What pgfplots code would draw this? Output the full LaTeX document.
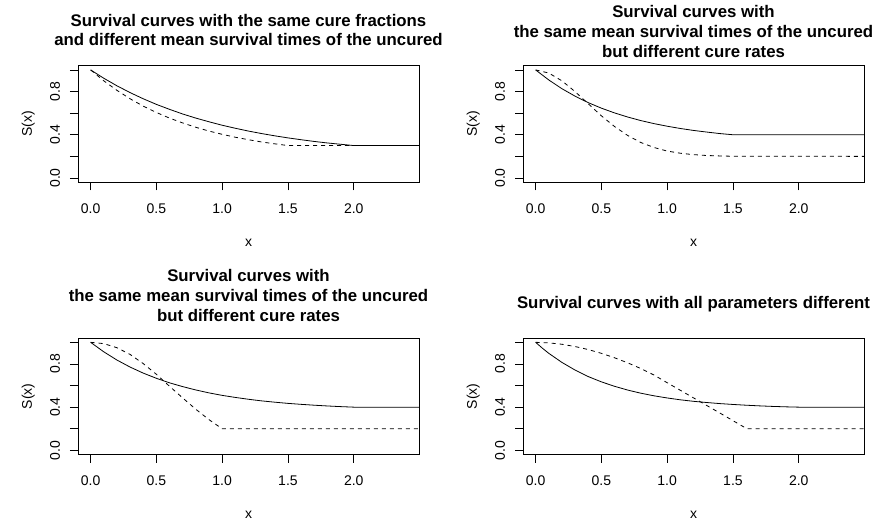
\documentclass[border=0pt]{standalone}
\usepackage{fontspec}
\setmainfont{Liberation Sans}
\usepackage{pgfplots}
\pgfplotsset{compat=1.18}
\pgfplotsset{
  rstyle/.style={
    scale only axis, width=341pt, height=116.7pt, anchor=south west,
    xmin=-0.096, xmax=2.496, ymin=-0.04, ymax=1.04,
    axis line style={line width=0.8pt},
    tick align=outside, major tick length=8pt,
    tick style={black, line width=0.8pt},
    xtick={0,0.5,1,1.5,2}, xticklabels={0.0,0.5,1.0,1.5,2.0},
    ytick={0,0.2,0.4,0.6,0.8,1}, yticklabels={0.0,,0.4,,0.8,},
    xtick pos=lower, ytick pos=left,
    ticklabel style={font=\fontsize{14}{16}\selectfont},
    xticklabel style={anchor=center, yshift=-18pt},
    yticklabel style={xshift=-15pt, rotate=90, anchor=center},
    xlabel={x}, ylabel={S(x)},
    label style={font=\fontsize{14}{16}\selectfont},
    xlabel style={at={(axis description cs:0.5,-0.5176)}, anchor=center},
    ylabel style={at={(axis description cs:-0.1457,0.5)}, anchor=center},
    clip=true,
  },
  sol/.style={black, line width=0.8pt},
  das/.style={black, line width=0.8pt, dash pattern=on 4pt off 4pt},
}
\begin{document}
\begin{tikzpicture}[x=1pt,y=1pt]
\path[use as bounding box] (0,0) rectangle (875,525);
% Panel 1
\begin{axis}[rstyle, at={(78pt,342.7pt)}]
\addplot[sol] coordinates {(0,1.000) (0.1,0.923) (0.2,0.853) (0.3,0.790) (0.4,0.733) (0.5,0.681) (0.6,0.635) (0.7,0.592) (0.8,0.554) (0.9,0.520) (1.0,0.488) (1.1,0.460) (1.2,0.434) (1.3,0.411) (1.4,0.390) (1.5,0.371) (1.6,0.354) (1.7,0.338) (1.8,0.324) (1.9,0.312) (2.0,0.300) (2.5,0.300)};
\addplot[das] coordinates {(0,1.000) (0.1,0.899) (0.2,0.811) (0.3,0.733) (0.4,0.665) (0.5,0.606) (0.6,0.554) (0.7,0.509) (0.8,0.469) (0.9,0.434) (1.0,0.404) (1.1,0.377) (1.2,0.354) (1.3,0.333) (1.4,0.316) (1.5,0.300) (2.5,0.300)};
\end{axis}
% Panel 2
\begin{axis}[rstyle, at={(523pt,342.7pt)}]
\addplot[sol] coordinates {(0,1.000) (0.1,0.907) (0.2,0.826) (0.3,0.757) (0.4,0.697) (0.5,0.646) (0.6,0.602) (0.7,0.564) (0.8,0.531) (0.9,0.503) (1.0,0.479) (1.1,0.458) (1.2,0.440) (1.3,0.425) (1.4,0.411) (1.5,0.400) (2.5,0.400)};
\addplot[das] coordinates {(0,1.000) (0.1,0.971) (0.2,0.899) (0.3,0.799) (0.4,0.687) (0.5,0.575) (0.6,0.476) (0.7,0.393) (0.8,0.328) (0.9,0.282) (1.0,0.249) (1.1,0.229) (1.2,0.216) (1.3,0.208) (1.4,0.204) (1.5,0.201) (2.5,0.200)};
\end{axis}
% Panel 3
\begin{axis}[rstyle, at={(78pt,70.3pt)}]
\addplot[sol] coordinates {(0,1.000) (0.1,0.912) (0.2,0.836) (0.3,0.771) (0.4,0.715) (0.5,0.667) (0.6,0.625) (0.7,0.590) (0.8,0.559) (0.9,0.532) (1.0,0.509) (1.1,0.490) (1.2,0.473) (1.3,0.458) (1.4,0.446) (1.5,0.435) (1.6,0.426) (1.7,0.418) (1.8,0.411) (1.9,0.405) (2.0,0.400) (2.5,0.400)};
\addplot[das] coordinates {(0,1.000) (0.1,0.988) (0.2,0.950) (0.3,0.888) (0.4,0.803) (0.5,0.704) (0.6,0.593) (0.7,0.485) (0.8,0.380) (0.9,0.284) (1.0,0.200) (2.5,0.200)};
\end{axis}
% Panel 4
\begin{axis}[rstyle, at={(523pt,70.3pt)}]
\addplot[sol] coordinates {(0,1.000) (0.05,0.947) (0.1,0.898) (0.2,0.814) (0.3,0.743) (0.4,0.683) (0.5,0.634) (0.6,0.593) (0.7,0.558) (0.8,0.529) (0.9,0.505) (1.0,0.485) (1.1,0.468) (1.2,0.454) (1.3,0.443) (1.4,0.433) (1.5,0.425) (1.6,0.418) (1.7,0.412) (1.8,0.407) (1.9,0.403) (2.0,0.400) (2.5,0.400)};
\addplot[das] coordinates {(0,1.000) (0.1,0.995) (0.2,0.982) (0.3,0.961) (0.4,0.933) (0.5,0.898) (0.6,0.857) (0.7,0.810) (0.8,0.757) (0.9,0.697) (1.0,0.626) (1.1,0.556) (1.2,0.486) (1.3,0.416) (1.4,0.346) (1.5,0.275) (1.606,0.200) (2.5,0.200)};
\end{axis}
% Titles
\node[font=\fontsize{16.8}{19.3}\selectfont\bfseries, align=center] at (248.5,494.7) {Survival curves with the same cure fractions\\and different mean survival times of the uncured};
\node[font=\fontsize{16.8}{20}\selectfont\bfseries, align=center] at (693.5,493.1) {Survival curves with\\the same mean survival times of the uncured\\but different cure rates};
\node[font=\fontsize{16.8}{20}\selectfont\bfseries, align=center] at (248.5,229.7) {Survival curves with\\the same mean survival times of the uncured\\but different cure rates};
\node[font=\fontsize{16.8}{20}\selectfont\bfseries, align=center] at (693.5,221.3) {Survival curves with all parameters different};
\end{tikzpicture}
\end{document}
